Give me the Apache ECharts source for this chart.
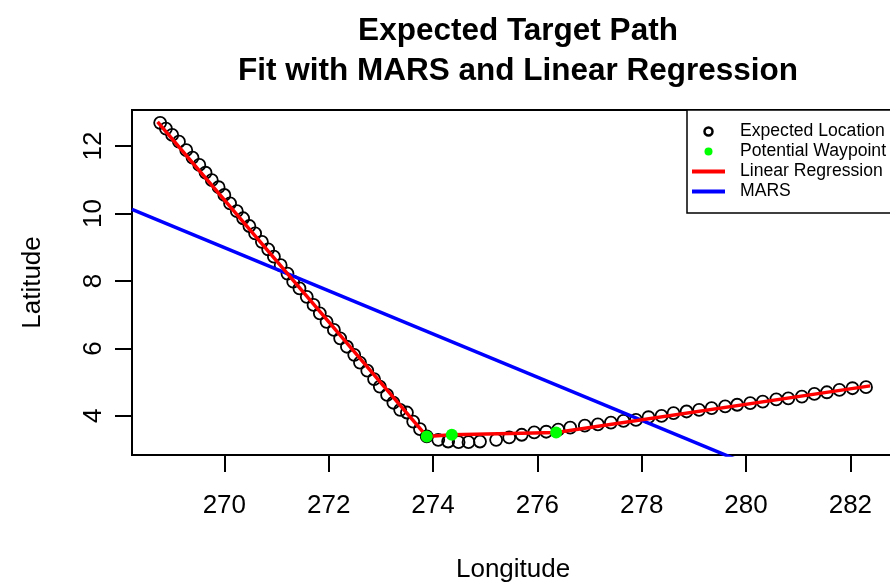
<!DOCTYPE html>
<html>
<head>
<meta charset="utf-8">
<script src="https://cdn.jsdelivr.net/npm/echarts@6/dist/echarts.min.js"></script>
<style>
  html, body { margin: 0; padding: 0; background: #fff; }
  #chart { width: 890px; height: 585px; }
</style>
</head>
<body>
<div id="chart"></div>
<script>
// ---- Data ----
const locLon = [268.77,268.88,269.00,269.13,269.27,269.39,269.52,269.64,269.76,269.89,
  270.00,270.11,270.24,270.36,270.48,270.59,270.72,270.84,270.95,271.08,
  271.21,271.32,271.44,271.58,271.71,271.83,271.96,272.10,272.22,272.35,
  272.49,272.60,272.74,272.87,272.98,273.12,273.24,273.37,273.50,273.62,
  273.75,273.88,274.10,274.29,274.49,274.68,274.90,275.21,275.46,275.70,
  275.94,276.17,276.40,276.63,276.91,277.16,277.41,277.65,277.89,278.13,
  278.38,278.61,278.86,279.10,279.34,279.60,279.83,280.08,280.32,280.58,
  280.81,281.07,281.31,281.55,281.79,282.04,282.30];
const locLat = [12.69,12.52,12.33,12.13,11.88,11.66,11.44,11.21,10.99,10.78,
  10.55,10.30,10.07,9.86,9.63,9.41,9.16,8.94,8.72,8.47,
  8.22,7.98,7.78,7.53,7.29,7.04,6.79,6.55,6.30,6.05,
  5.81,5.58,5.34,5.09,4.87,4.62,4.39,4.18,4.10,3.83,
  3.61,3.39,3.29,3.24,3.22,3.22,3.24,3.29,3.36,3.44,
  3.51,3.53,3.59,3.65,3.71,3.75,3.80,3.85,3.88,3.96,
  4.00,4.08,4.13,4.18,4.23,4.28,4.33,4.38,4.42,4.49,
  4.52,4.57,4.65,4.70,4.77,4.82,4.85];

const wayLon = [273.88, 274.36, 276.36];
const wayLat = [3.39, 3.44, 3.51];

const lrLon = [268.72, 273.88, 274.36, 276.36, 282.38];
const lrLat = [12.72, 3.39, 3.44, 3.51, 4.89];

const marsLon = [268.23, 282.84];
const marsLat = [10.12, 0.77];

const xTicks = [270, 272, 274, 276, 278, 280, 282];
const yTicks = [4, 6, 8, 10, 12];

const titleText = 'Expected Target Path\nFit with MARS and Linear Regression';
const xName = 'Longitude';
const yName = 'Latitude';
const seriesNames = ['Expected Location', 'Potential Waypoint', 'Linear Regression', 'MARS'];

// ---- Build ----
const zip = (a, b) => a.map((v, i) => [v, b[i]]);
const FONT = '"Liberation Sans", Arial, Helvetica, sans-serif';
const lineIcon = 'path://M0,0L33,0L33,4L0,4Z';

const chart = echarts.init(document.getElementById('chart'), null, { renderer: 'canvas' });
chart.setOption({
  animation: false,
  backgroundColor: '#ffffff',
  title: {
    text: titleText,
    left: 513,
    textAlign: 'center',
    top: 6,
    textStyle: { fontFamily: FONT, fontSize: 31.5, fontWeight: 'bold', color: '#000', lineHeight: 40 }
  },
  grid: {
    left: 132, right: -4.2, top: 110, bottom: 130,
    outerBoundsMode: 'none', containLabel: false,
    show: true, borderColor: '#000', borderWidth: 2, backgroundColor: 'transparent'
  },
  xAxis: {
    type: 'value', min: 268.23, max: 282.84,
    name: xName, nameLocation: 'middle', nameGap: 102,
    nameTextStyle: { fontFamily: FONT, fontSize: 26, color: '#000' },
    axisLine: { show: false },
    splitLine: { show: false },
    axisTick: { show: true, length: 17, lineStyle: { color: '#000', width: 2 }, customValues: xTicks },
    axisLabel: { fontFamily: FONT, fontSize: 26, color: '#000', margin: 38, customValues: xTicks,
      formatter: v => String(v) }
  },
  yAxis: {
    type: 'value', min: 2.84, max: 13.07,
    name: yName, nameLocation: 'middle', nameGap: 86,
    nameTextStyle: { fontFamily: FONT, fontSize: 26, color: '#000' },
    axisLine: { show: false },
    splitLine: { show: false },
    axisTick: { show: true, length: 17, lineStyle: { color: '#000', width: 2 }, customValues: yTicks },
    axisLabel: { fontFamily: FONT, fontSize: 26, color: '#000', margin: 25, rotate: 90, customValues: yTicks,
      formatter: v => String(v) }
  },
  legend: {
    orient: 'vertical', left: 687, top: 110,
    padding: [11.5, 20, 11.5, 5], itemGap: 0, itemWidth: 33, itemHeight: 8,
    borderColor: '#000', borderWidth: 1.5, backgroundColor: '#fff', borderRadius: 0,
    selectedMode: false, symbolKeepAspect: true,
    textStyle: { fontFamily: FONT, fontSize: 17.6, color: '#000', lineHeight: 20, padding: [0, 0, 0, 10] },
    data: [
      { name: seriesNames[0], icon: 'circle', itemStyle: { color: '#fff', borderColor: '#000', borderWidth: 2.5 } },
      { name: seriesNames[1], icon: 'circle', itemStyle: { color: '#00ff00', borderWidth: 0 } },
      { name: seriesNames[2], icon: lineIcon, itemStyle: { color: '#ff0000', borderWidth: 0 } },
      { name: seriesNames[3], icon: lineIcon, itemStyle: { color: '#0000ff', borderWidth: 0 } }
    ]
  },
  series: [
    {
      name: seriesNames[0], type: 'scatter', z: 1,
      data: zip(locLon, locLat), symbol: 'circle', symbolSize: 12,
      itemStyle: { color: 'rgba(0,0,0,0)', borderColor: '#000', borderWidth: 1.8, opacity: 1 },
      emphasis: { disabled: true }
    },
    {
      name: seriesNames[3], type: 'line', z: 2,
      data: zip(marsLon, marsLat), symbol: 'none', clip: true, color: '#0000ff',
      lineStyle: { color: '#0000ff', width: 3.5 }, itemStyle: { color: '#0000ff' },
      emphasis: { disabled: true }
    },
    {
      name: seriesNames[2], type: 'line', z: 3,
      data: zip(lrLon, lrLat), symbol: 'none', clip: true, color: '#ff0000',
      lineStyle: { color: '#ff0000', width: 3.5 }, itemStyle: { color: '#ff0000' },
      emphasis: { disabled: true }
    },
    {
      name: seriesNames[1], type: 'scatter', z: 4,
      data: zip(wayLon, wayLat), symbol: 'circle', symbolSize: 12,
      itemStyle: { color: '#00ff00', opacity: 1 },
      emphasis: { disabled: true }
    }
  ]
});
</script>
</body>
</html>
